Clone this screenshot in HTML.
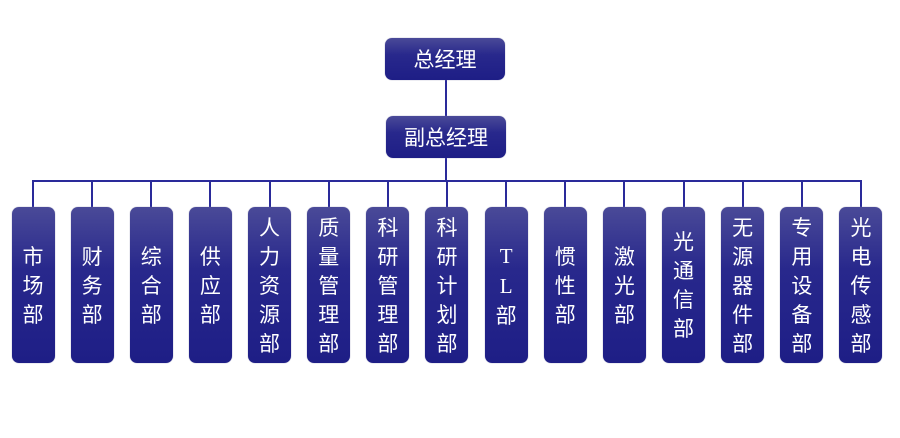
<!DOCTYPE html>
<html><head><meta charset="utf-8"><style>
body{margin:0;width:900px;height:438px;background:#fff;position:relative;overflow:hidden;font-family:"Noto Sans CJK SC","WenQuanYi Zen Hei",sans-serif}
.b{position:absolute;background:linear-gradient(#4a4a98,#28288c 40%,#1e1e86);border-radius:7px;color:#fff;display:flex;align-items:center;justify-content:center;box-shadow:0 0 1px #88a}
.h{font-size:21px;}
.v{width:43px;top:207px;height:156px;flex-direction:column;font-size:21px;line-height:29px;text-align:center}
.l{position:absolute;background:#2a2a9a}
</style></head><body>
<div class="l" style="left:445px;top:80px;width:2px;height:36px"></div>
<div class="l" style="left:445px;top:158px;width:2px;height:24px"></div>
<div class="l" style="left:32px;top:180px;width:830px;height:2px"></div>
<div class="b h" style="left:385px;top:38px;width:120px;height:42px">总经理</div>
<div class="b h" style="left:386px;top:116px;width:120px;height:42px">副总经理</div>
<div id="c"></div>
<script>
var n=["市<br>场<br>部","财<br>务<br>部","综<br>合<br>部","供<br>应<br>部","人<br>力<br>资<br>源<br>部","质<br>量<br>管<br>理<br>部","科<br>研<br>管<br>理<br>部","科<br>研<br>计<br>划<br>部","<span style='font-family:Liberation Serif,serif'>T<br>L</span><br>部","惯<br>性<br>部","激<br>光<br>部","光<br>通<br>信<br>部","无<br>源<br>器<br>件<br>部","专<br>用<br>设<br>备<br>部","光<br>电<br>传<br>感<br>部"];
var h="";for(var i=0;i<15;i++){var cx=33+i*59.14;
h+="<div class='l' style='left:"+(cx-1)+"px;top:181px;width:2px;height:26px'></div>";
h+="<div class='b v' style='left:"+(cx-21.5)+"px'><div>"+n[i]+"</div></div>";}
document.getElementById("c").innerHTML=h;
</script>
</body></html>
